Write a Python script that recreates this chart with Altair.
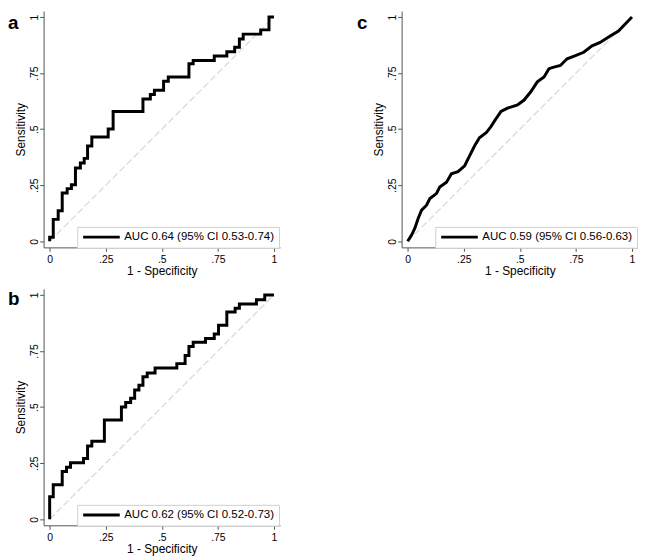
import altair as alt
import pandas as pd

FONT = "Liberation Sans"

# ---- data ----
fpr_a = [0, 0, 0.016, 0.038, 0.056, 0.078, 0.097, 0.115, 0.137, 0.154, 0.169, 0.188, 0.261, 0.283,
         0.416, 0.449, 0.467, 0.508, 0.529, 0.621, 0.640, 0.734, 0.790, 0.825, 0.846, 0.863, 0.941,
         0.978, 1.0]
tpr_a = [0, 0.018, 0.098, 0.136, 0.216, 0.235, 0.252, 0.327, 0.349, 0.370, 0.425, 0.465, 0.501, 0.579,
         0.635, 0.655, 0.674, 0.714, 0.733, 0.792, 0.806, 0.826, 0.845, 0.865, 0.902, 0.924, 0.943,
         1.0, 1.0]

fpr_b = [0, 0, 0.016, 0.056, 0.075, 0.093, 0.151, 0.169, 0.188, 0.244, 0.320, 0.339, 0.361, 0.379,
         0.398, 0.416, 0.435, 0.470, 0.567, 0.604, 0.621, 0.640, 0.695, 0.734, 0.753, 0.790, 0.827,
         0.846, 0.922, 0.959, 1.0]
tpr_b = [0, 0.100, 0.154, 0.213, 0.232, 0.252, 0.271, 0.327, 0.348, 0.443, 0.501, 0.521, 0.540, 0.576,
         0.598, 0.635, 0.652, 0.674, 0.694, 0.730, 0.770, 0.789, 0.806, 0.826, 0.865, 0.924, 0.941,
         0.960, 0.979, 1.0, 1.0]

fpr_c = [0, 0.018, 0.032, 0.047, 0.062, 0.084, 0.099, 0.128, 0.143, 0.173, 0.195, 0.224, 0.254, 0.276,
         0.298, 0.320, 0.350, 0.372, 0.386, 0.416, 0.445, 0.490, 0.519, 0.549, 0.578, 0.608, 0.630,
         0.652, 0.681, 0.711, 0.748, 0.785, 0.822, 0.858, 0.903, 0.940, 0.969, 1.0]
tpr_c = [0, 0.029, 0.059, 0.103, 0.139, 0.161, 0.191, 0.213, 0.242, 0.264, 0.301, 0.311, 0.337, 0.381,
         0.425, 0.462, 0.484, 0.513, 0.535, 0.579, 0.594, 0.608, 0.630, 0.667, 0.711, 0.733, 0.770,
         0.777, 0.784, 0.814, 0.828, 0.843, 0.872, 0.887, 0.916, 0.938, 0.968, 1.0]

label_a = "AUC 0.64 (95% CI 0.53-0.74)"
label_b = "AUC 0.62 (95% CI 0.52-0.73)"
label_c = "AUC 0.59 (95% CI 0.56-0.63)"

diag_x = [0, 1]
diag_y = [0, 1]

tick_values = [0, 0.25, 0.5, 0.75, 1]
tick_labels = ["0", ".25", ".5", ".75", "1"]

DOMAIN = [-0.027, 1.027]


def make_label_expr():
    expr = "''"
    for v, l in reversed(list(zip(tick_values, tick_labels))):
        expr = f"abs(datum.value - {v}) < 1e-9 ? '{l}' : ({expr})"
    return expr


LABEL_EXPR = make_label_expr()


def panel(letter, fpr, tpr, auc_label, step, letter_x, letter_y):
    df = pd.DataFrame({"fpr": fpr, "tpr": tpr, "i": list(range(len(fpr))), "series": auc_label})
    ddf = pd.DataFrame({"fpr": diag_x, "tpr": diag_y})
    xs = alt.Scale(domain=DOMAIN, nice=False, zero=False)
    ys = alt.Scale(domain=DOMAIN, nice=False, zero=False)
    xax = alt.Axis(values=tick_values, labelExpr=LABEL_EXPR, title="1 - Specificity",
                   labelPadding=3, labelFlush=False, titleY=27.5, titleBaseline="alphabetic")
    yax = alt.Axis(values=tick_values, labelExpr=LABEL_EXPR, title="Sensitivity",
                   labelAngle=270, labelAlign="center", labelBaseline="alphabetic",
                   labelPadding=2.5, titleAngle=270, titleX=-19.5, titleY=119.5,
                   titleAlign="center", titleBaseline="alphabetic")

    diag = alt.Chart(ddf).mark_line(color="#d9d9d9", strokeWidth=1.3, strokeDash=[7, 3]).encode(
        x=alt.X("fpr:Q", scale=xs, axis=xax),
        y=alt.Y("tpr:Q", scale=ys, axis=yax),
    )
    curve = alt.Chart(df).mark_line(
        strokeWidth=3, interpolate="step-after" if step else "linear", strokeJoin="miter"
    ).encode(
        x=alt.X("fpr:Q", scale=xs, axis=xax),
        y=alt.Y("tpr:Q", scale=ys, axis=yax),
        order=alt.Order("i:Q"),
        color=alt.Color(
            "series:N",
            scale=alt.Scale(range=["black"]),
            legend=alt.Legend(
                orient="none", legendX=34, legendY=218.3, title=None,
                symbolType="stroke", symbolSize=1369, symbolStrokeWidth=3,
                clipHeight=11.6, labelFontSize=11.6, labelFont=FONT, labelColor="black",
                labelOffset=3, labelLimit=400, padding=4.5,
                strokeColor="#cfcfcf", fillColor="white",
            ),
        ),
    )
    letter_layer = alt.Chart(pd.DataFrame({"t": [letter]})).mark_text(
        align="left", baseline="alphabetic", fontSize=19, fontWeight="bold", font=FONT, color="black"
    ).encode(text="t:N", x=alt.value(letter_x), y=alt.value(letter_y))
    return alt.layer(diag, curve, letter_layer).properties(width=239, height=239)


pa = panel("a", fpr_a, tpr_a, label_a, True, -36, 18.3)
pb = panel("b", fpr_b, tpr_b, label_b, True, -36, 16.7)
pc = panel("c", fpr_c, tpr_c, label_c, False, -45, 18.3)

top = alt.hconcat(pa, pc, spacing=78).resolve_scale(color="independent")
chart = (
    alt.vconcat(top, pb, spacing=12)
    .resolve_scale(color="independent")
    .properties(padding=0)
    .configure(font=FONT)
    .configure_view(strokeWidth=0)
    .configure_axis(
        grid=False, domainColor="#555555", tickColor="#555555", domainWidth=1, tickWidth=1,
        tickSize=4, labelFont=FONT, titleFont=FONT, labelFontSize=10.5, titleFontSize=12,
        titleFontWeight="normal", labelColor="black", titleColor="black",
    )
)

chart.save("out.html", embed_options={"renderer": "svg", "actions": False})
